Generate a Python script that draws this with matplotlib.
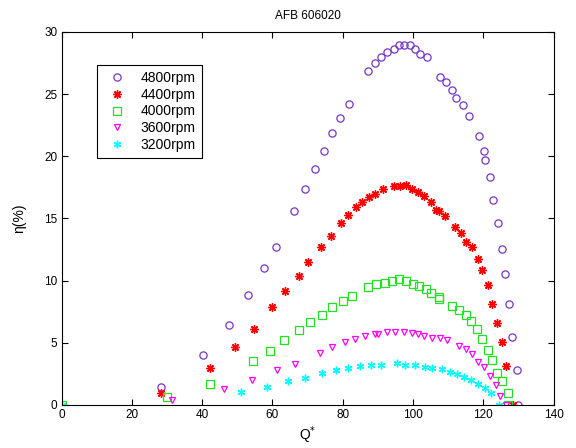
import matplotlib.pyplot as plt

plt.rcParams['font.family'] = ['Liberation Sans', 'DejaVu Sans']

# Q* and efficiency (%) for each fan speed
q_4800 = [28.3, 40.1, 47.6, 53.0, 57.6, 60.9, 66.0, 69.2, 72.1, 74.6, 77.0, 79.3, 81.7,
          87.3, 89.2, 90.9, 92.7, 94.5, 96.0, 97.5, 99.1, 100.7, 102.1, 103.9, 107.6,
          109.3, 111.0, 112.3, 114.3, 115.8, 118.8, 120.1, 120.6, 121.8, 122.9, 124.2,
          125.2, 126.2, 127.3, 128.3, 129.5, 129.9]
eta_4800 = [1.47, 4.0, 6.45, 8.84, 11.0, 12.7, 15.6, 17.35, 18.96, 20.45, 21.85, 23.1, 24.2,
            26.85, 27.5, 28.0, 28.35, 28.6, 28.9, 28.9, 28.9, 28.65, 28.2, 27.98, 26.4,
            25.99, 25.3, 24.7, 24.1, 23.2, 21.6, 20.4, 19.7, 18.3, 16.5, 14.6,
            12.5, 10.5, 8.1, 5.5, 2.8, 0.0]

q_4400 = [28.2, 42.2, 49.3, 54.7, 59.9, 63.7, 67.5, 70.2, 73.8, 76.6, 79.4, 81.5, 83.7,
          85.4, 87.4, 89.3, 91.6, 94.5, 96.2, 98.0, 99.7, 101.3, 103.0, 105.1, 106.5,
          107.4, 109.0, 111.9, 113.6, 115.1, 116.8, 118.4, 119.7, 121.4, 122.6, 123.9,
          125.2, 126.6, 128.6]
eta_4400 = [0.94, 2.95, 4.63, 6.13, 7.9, 9.2, 10.4, 11.5, 12.7, 13.6, 14.65, 15.3, 15.9,
            16.33, 16.7, 16.95, 17.4, 17.57, 17.57, 17.67, 17.37, 17.1, 16.84, 16.33, 15.7,
            15.6, 15.2, 14.3, 13.8, 13.1, 12.7, 11.7, 10.87, 9.64, 8.14, 6.6,
            5.06, 3.16, 0.0]

q_4000 = [0.0, 30.0, 42.2, 54.4, 59.3, 63.4, 67.5, 70.8, 74.0, 77.0, 80.2, 82.6, 87.2,
          89.6, 92.0, 94.0, 96.0, 98.0, 99.9, 101.8, 103.6, 105.2, 107.3, 107.5, 111.2,
          113.1, 115.1, 116.4, 118.2, 119.7, 121.3, 122.5, 123.8, 125.2, 126.9, 127.1]
eta_4000 = [0.0, 0.67, 1.71, 3.56, 4.34, 5.2, 6.02, 6.65, 7.24, 7.87, 8.4, 8.78, 9.45,
            9.73, 9.84, 9.97, 10.1, 9.93, 9.72, 9.53, 9.29, 9.0, 8.67, 8.55, 7.95,
            7.63, 7.25, 6.75, 6.13, 5.33, 4.44, 3.64, 2.6, 1.9, 0.96, 0.0]

q_3600 = [31.5, 46.3, 54.3, 61.2, 66.4, 73.4, 77.0, 80.6, 83.5, 86.4, 89.3, 89.9, 92.5,
          95.0, 97.4, 99.7, 101.3, 103.2, 105.4, 107.6, 109.7, 113.1, 115.1, 116.7,
          118.4, 120.2, 121.9, 123.5, 124.9, 126.6]
eta_3600 = [0.37, 1.26, 1.99, 2.79, 3.32, 4.2, 4.63, 5.06, 5.33, 5.57, 5.73, 5.73, 5.84,
            5.89, 5.89, 5.8, 5.7, 5.57, 5.4, 5.4, 5.25, 4.78, 4.53, 4.1,
            3.45, 3.05, 2.36, 1.58, 0.75, 0.0]

q_3200 = [0.0, 51.1, 58.5, 64.4, 69.3, 74.1, 78.0, 81.5, 84.9, 88.1, 91.0, 95.5, 97.8,
          100.7, 103.3, 105.5, 108.2, 110.5, 112.6, 114.6, 116.4, 118.5, 120.4, 122.3, 124.4]
eta_3200 = [0.0, 1.02, 1.48, 1.93, 2.19, 2.54, 2.79, 2.97, 3.11, 3.24, 3.24, 3.35, 3.24,
            3.24, 3.08, 2.97, 2.87, 2.69, 2.53, 2.28, 1.98, 1.66, 1.39, 0.94, 0.0]

labels = ['4800rpm', '4400rpm', '4000rpm', '3600rpm', '3200rpm']

fig = plt.figure(figsize=(5.76, 4.48), dpi=100)
ax = fig.add_axes([0.107, 0.096, 0.854, 0.833])

ax.plot(q_4800, eta_4800, 'o', mfc='none', mec='#7535c8', ms=5.2, mew=0.9, label=labels[0])
ax.plot(q_4400, eta_4400, ls='none', marker=(8, 2, 0), color='red', ms=6, mew=1.0, label=labels[1])
ax.plot(q_4000, eta_4000, 's', mfc='none', mec='#22e022', ms=5.5, mew=0.9, label=labels[2])
ax.plot(q_3600, eta_3600, 'v', mfc='none', mec='#ff00ff', ms=5, mew=0.9, label=labels[3])
ax.plot(q_3200, eta_3200, ls='none', marker=(6, 2, 0), color='#00ffff', ms=5.5, mew=1.0, label=labels[4])

ax.set_xlim(0, 140)
ax.set_ylim(0, 30)
ax.set_xticks(range(0, 141, 20))
ax.set_yticks(range(0, 31, 5))
ax.tick_params(direction='in', top=True, right=True, labelsize=8.5, length=4, pad=3)

ax.set_title('AFB 606020', fontsize=8.5, pad=9)
ax.set_xlabel('Q$^{*}$', fontsize=10, labelpad=2)
ax.set_ylabel('η(%)', fontsize=10, labelpad=13)

leg = ax.legend(loc='upper left', bbox_to_anchor=(0.072, 0.912), borderaxespad=0,
                fontsize=10, fancybox=False, edgecolor='black', framealpha=1,
                handlelength=2.0, handletextpad=0.7, labelspacing=0.2, borderpad=0.45,
                numpoints=1)
leg.get_frame().set_linewidth(0.8)

fig.savefig('out.png', dpi=100)
